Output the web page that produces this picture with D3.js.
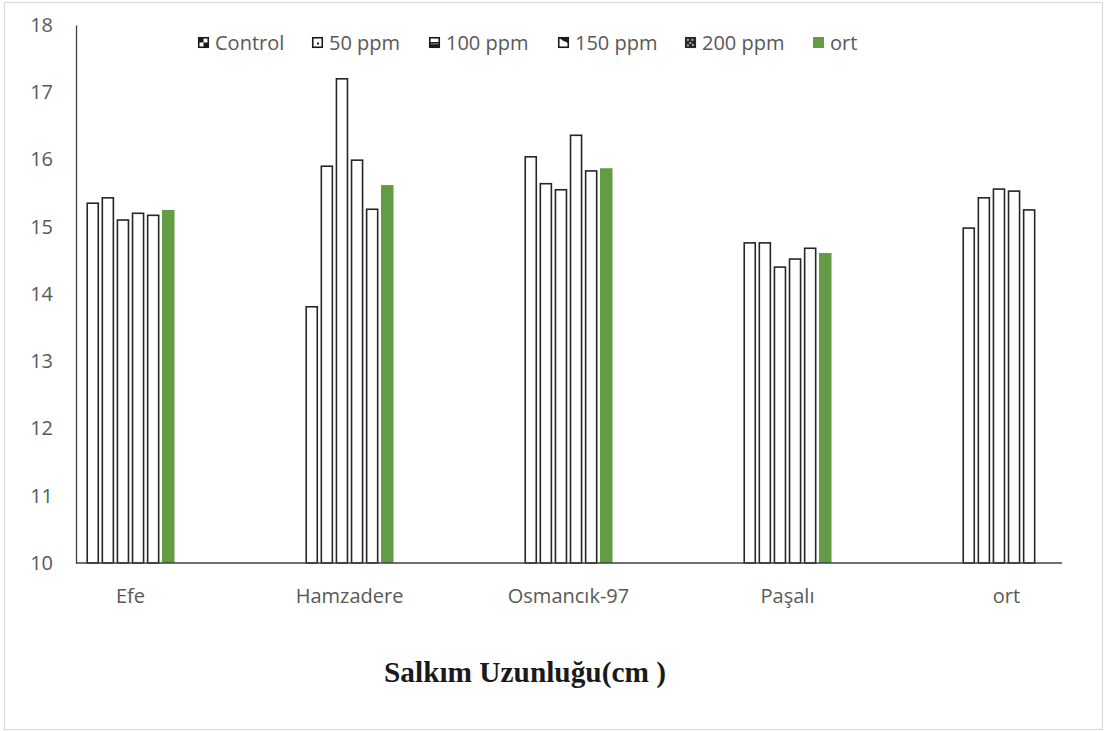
<!DOCTYPE html>
<html>
<head>
<meta charset="utf-8">
<script src="https://cdn.jsdelivr.net/npm/d3@7/dist/d3.min.js"></script>
<style>
  html, body { margin: 0; padding: 0; background: #fff; }
  svg { display: block; }
</style>
</head>
<body>
<svg id="chart" width="1105" height="731"></svg>
<script>
// Cluster length by variety and treatment
const categories = ["Efe", "Hamzadere", "Osmancık-97", "Paşalı", "ort"];
const seriesNames = ["Control", "50 ppm", "100 ppm", "150 ppm", "200 ppm", "ort"];
const control = [15.35, 13.81, 16.04, 14.76, 14.98];
const ppm50   = [15.43, 15.90, 15.64, 14.76, 15.43];
const ppm100  = [15.10, 17.20, 15.55, 14.40, 15.56];
const ppm150  = [15.20, 15.99, 16.36, 14.52, 15.53];
const ppm200  = [15.17, 15.26, 15.83, 14.68, 15.25];
const ortVals = [15.25, 15.62, 15.87, 14.61, null];
const yTicks = [10, 11, 12, 13, 14, 15, 16, 17, 18];
const title = "Salkım Uzunluğu(cm )";

const seriesValues = [control, ppm50, ppm100, ppm150, ppm200, ortVals];

const svg = d3.select("#chart");
const green = "#629c44";
const barStroke = "#262626";
const textGray = "#595959";
const sansFont = "'Open Sans', 'Liberation Sans', sans-serif";

// outer frame
svg.append("rect")
  .attr("x", 4.5).attr("y", 2.5).attr("width", 1098).attr("height", 727)
  .attr("fill", "#fff").attr("stroke", "#d9d9d9").attr("stroke-width", 1.2);

const plotLeft = 76, plotRight = 1062;
const y = d3.scaleLinear().domain([10, 18]).range([563, 25]);

const x0 = d3.scaleBand().domain(categories).range([21, 1116])
  .paddingInner(0.598).paddingOuter(0.299);
const x1 = d3.scaleBand().domain(seriesNames).range([0, x0.bandwidth()])
  .paddingInner(0.17);

// y axis
const yAxis = d3.axisLeft(y).tickValues(yTicks).tickSize(0).tickPadding(23)
  .tickFormat(d3.format("d"));
const gy = svg.append("g").attr("transform", `translate(${plotLeft},0)`).call(yAxis);
gy.select(".domain").attr("stroke", "#404040").attr("stroke-width", 1.3);
gy.selectAll("text").attr("fill", textGray)
  .style("font-family", sansFont)
  .style("font-size", "20px");

// bars
const rows = [];
seriesNames.forEach((s, si) => {
  categories.forEach((c, ci) => {
    const v = seriesValues[si][ci];
    if (v != null) rows.push({ s, c, v, si });
  });
});

svg.append("g").selectAll("rect").data(rows).join("rect")
  .attr("x", d => x0(d.c) + x1(d.s) + (d.s === "ort" ? 0 : 0.75))
  .attr("y", d => y(d.v))
  .attr("width", d => x1.bandwidth() - (d.s === "ort" ? 0 : 1.5))
  .attr("height", d => y(10) - y(d.v))
  .attr("fill", d => d.s === "ort" ? green : "#fff")
  .attr("stroke", d => d.s === "ort" ? "none" : barStroke)
  .attr("stroke-width", 1.6);

// x axis
const xAxis = d3.axisBottom(x0).tickSize(0).tickPadding(26);
const gx = svg.append("g").attr("transform", `translate(0,${y(10)})`).call(xAxis);
gx.select(".domain").remove();
gx.append("line").attr("x1", plotLeft).attr("x2", plotRight)
  .attr("y1", 0).attr("y2", 0).attr("stroke", "#404040").attr("stroke-width", 1.3);
gx.selectAll("text").attr("fill", textGray)
  .style("font-family", sansFont)
  .style("font-size", "20px");

// legend markers with small fill patterns
function legendMarker(g, name) {
  const s = 11;
  if (name === "ort") {
    g.append("rect").attr("width", s).attr("height", s).attr("fill", green);
    return;
  }
  g.append("rect").attr("x", 0.75).attr("y", 0.75).attr("width", s - 1.5).attr("height", s - 1.5)
    .attr("fill", "#fff").attr("stroke", "#1a1a1a").attr("stroke-width", 1.6);
  if (name === "Control") {
    g.append("rect").attr("x", 0).attr("y", 0).attr("width", s / 2).attr("height", s / 2).attr("fill", "#1a1a1a");
    g.append("rect").attr("x", s / 2).attr("y", s / 2).attr("width", s / 2).attr("height", s / 2).attr("fill", "#1a1a1a");
  } else if (name === "50 ppm") {
    g.append("rect").attr("x", 5).attr("y", 5.5).attr("width", 2).attr("height", 2).attr("fill", "#1a1a1a");
  } else if (name === "100 ppm") {
    g.append("rect").attr("x", 0).attr("y", 5).attr("width", s).attr("height", 6).attr("fill", "#1a1a1a");
    g.append("rect").attr("x", 1.5).attr("y", 6).attr("width", s - 3).attr("height", 1.5).attr("fill", "#666");
  } else if (name === "150 ppm") {
    g.append("path").attr("d", `M0,0 L${s},0 L${s},${s * 0.6} L${s * 0.4},${s * 0.3} Z`).attr("fill", "#1a1a1a");
  } else if (name === "200 ppm") {
    g.append("rect").attr("width", s).attr("height", s).attr("fill", "#2a2a2a");
    [[2, 2], [6.5, 2], [4.5, 5], [2, 7.5], [7, 7]].forEach(([px, py]) =>
      g.append("rect").attr("x", px).attr("y", py).attr("width", 1.8).attr("height", 1.8).attr("fill", "#bbb"));
  }
}

// left edges of the legend labels
const legendTextX = [215, 329, 446, 575, 702, 830];
const legend = svg.append("g");
seriesNames.forEach((name, i) => {
  const g = legend.append("g").attr("transform", `translate(${legendTextX[i] - 17},37)`);
  legendMarker(g, name);
  g.append("text").attr("x", 17).attr("y", 12.5).text(name)
    .attr("fill", textGray)
    .style("font-family", sansFont)
    .style("font-size", "20px");
});

// title
svg.append("text").attr("x", 525).attr("y", 682).attr("text-anchor", "middle")
  .text(title)
  .attr("fill", "#1a1a1a")
  .attr("textLength", 282).attr("lengthAdjust", "spacingAndGlyphs")
  .style("font-family", "'Liberation Serif', 'Times New Roman', serif")
  .style("font-weight", "bold")
  .style("font-size", "29px");
</script>
</body>
</html>
